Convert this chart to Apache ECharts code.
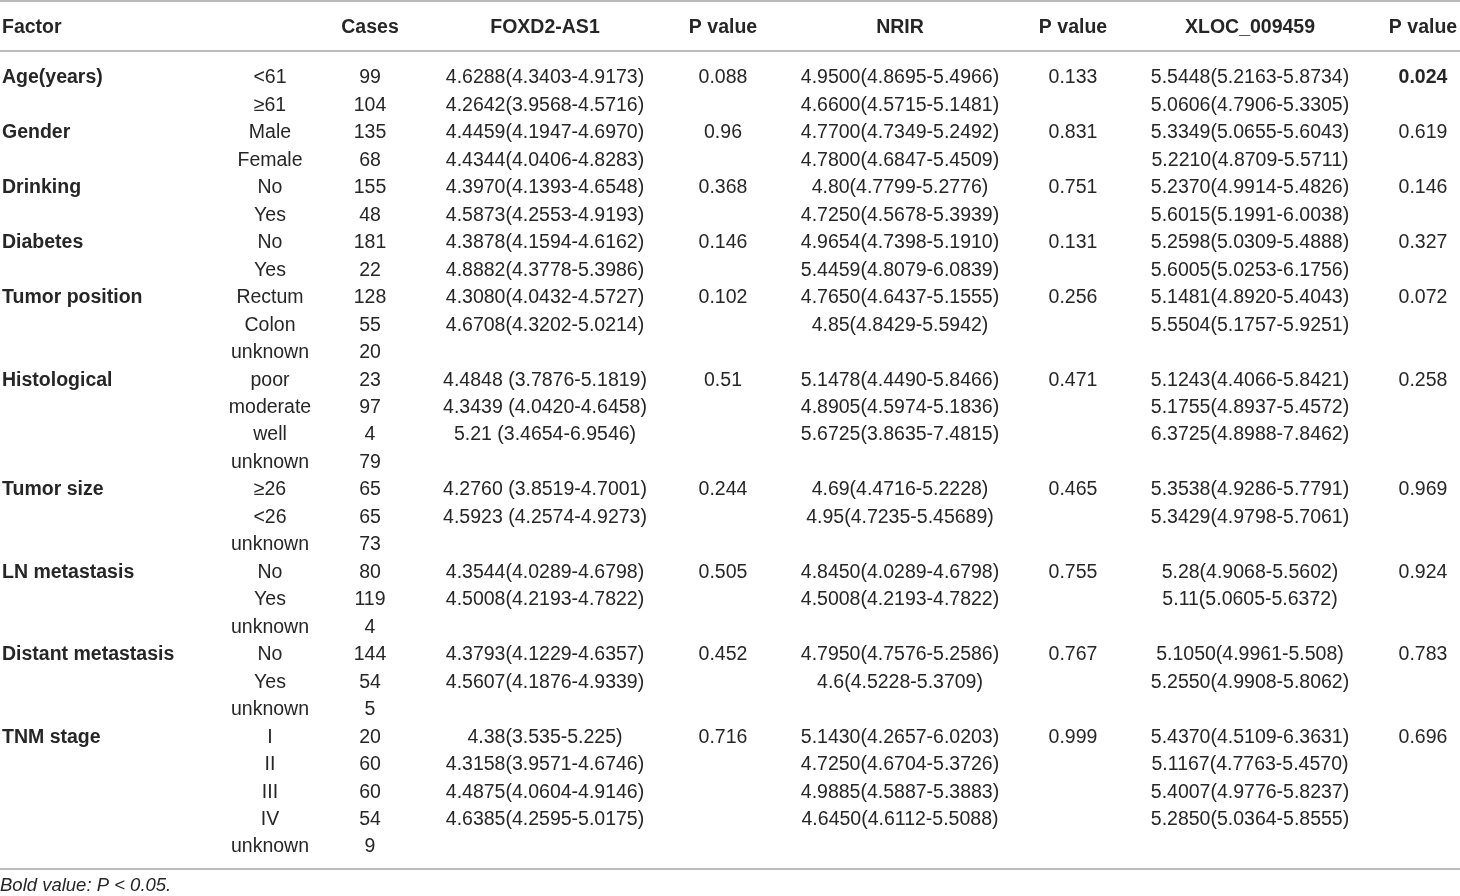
<!DOCTYPE html>
<html>
<head>
  <meta charset="utf-8">
  <title>Table</title>
  <script src="https://cdn.jsdelivr.net/npm/echarts@6/dist/echarts.min.js"></script>
  <style type="text/css">
    html, body {
      margin: 0;
      padding: 0;
      background: #fff;
    }

    #main {
      width: 1460px;
      height: 896px;
    }
  </style>
</head>

<body>
<div id="main"></div>
<script>
  // header texts
  var headers = ['Factor', '', 'Cases', 'FOXD2-AS1', 'P value', 'NRIR', 'P value', 'XLOC_009459', 'P value'];

  // table columns, one entry per row
  var factors = ['Age(years)', '', 'Gender', '', 'Drinking', '', 'Diabetes', '',
    'Tumor position', '', '', 'Histological', '', '', '', 'Tumor size', '', '',
    'LN metastasis', '', '', 'Distant metastasis', '', '', 'TNM stage', '', '', '', ''];
  var groups = ['<61', '≥61', 'Male', 'Female', 'No', 'Yes', 'No', 'Yes',
    'Rectum', 'Colon', 'unknown', 'poor', 'moderate', 'well', 'unknown', '≥26', '<26', 'unknown',
    'No', 'Yes', 'unknown', 'No', 'Yes', 'unknown', 'I', 'II', 'III', 'IV', 'unknown'];
  var cases = ['99', '104', '135', '68', '155', '48', '181', '22',
    '128', '55', '20', '23', '97', '4', '79', '65', '65', '73',
    '80', '119', '4', '144', '54', '5', '20', '60', '60', '54', '9'];
  var foxd2 = ['4.6288(4.3403-4.9173)', '4.2642(3.9568-4.5716)', '4.4459(4.1947-4.6970)', '4.4344(4.0406-4.8283)',
    '4.3970(4.1393-4.6548)', '4.5873(4.2553-4.9193)', '4.3878(4.1594-4.6162)', '4.8882(4.3778-5.3986)',
    '4.3080(4.0432-4.5727)', '4.6708(4.3202-5.0214)', '',
    '4.4848 (3.7876-5.1819)', '4.3439 (4.0420-4.6458)', '5.21 (3.4654-6.9546)', '',
    '4.2760 (3.8519-4.7001)', '4.5923 (4.2574-4.9273)', '',
    '4.3544(4.0289-4.6798)', '4.5008(4.2193-4.7822)', '',
    '4.3793(4.1229-4.6357)', '4.5607(4.1876-4.9339)', '',
    '4.38(3.535-5.225)', '4.3158(3.9571-4.6746)', '4.4875(4.0604-4.9146)', '4.6385(4.2595-5.0175)', ''];
  var foxd2P = ['0.088', '', '0.96', '', '0.368', '', '0.146', '', '0.102', '', '',
    '0.51', '', '', '', '0.244', '', '', '0.505', '', '', '0.452', '', '', '0.716', '', '', '', ''];
  var nrir = ['4.9500(4.8695-5.4966)', '4.6600(4.5715-5.1481)', '4.7700(4.7349-5.2492)', '4.7800(4.6847-5.4509)',
    '4.80(4.7799-5.2776)', '4.7250(4.5678-5.3939)', '4.9654(4.7398-5.1910)', '5.4459(4.8079-6.0839)',
    '4.7650(4.6437-5.1555)', '4.85(4.8429-5.5942)', '',
    '5.1478(4.4490-5.8466)', '4.8905(4.5974-5.1836)', '5.6725(3.8635-7.4815)', '',
    '4.69(4.4716-5.2228)', '4.95(4.7235-5.45689)', '',
    '4.8450(4.0289-4.6798)', '4.5008(4.2193-4.7822)', '',
    '4.7950(4.7576-5.2586)', '4.6(4.5228-5.3709)', '',
    '5.1430(4.2657-6.0203)', '4.7250(4.6704-5.3726)', '4.9885(4.5887-5.3883)', '4.6450(4.6112-5.5088)', ''];
  var nrirP = ['0.133', '', '0.831', '', '0.751', '', '0.131', '', '0.256', '', '',
    '0.471', '', '', '', '0.465', '', '', '0.755', '', '', '0.767', '', '', '0.999', '', '', '', ''];
  var xloc = ['5.5448(5.2163-5.8734)', '5.0606(4.7906-5.3305)', '5.3349(5.0655-5.6043)', '5.2210(4.8709-5.5711)',
    '5.2370(4.9914-5.4826)', '5.6015(5.1991-6.0038)', '5.2598(5.0309-5.4888)', '5.6005(5.0253-6.1756)',
    '5.1481(4.8920-5.4043)', '5.5504(5.1757-5.9251)', '',
    '5.1243(4.4066-5.8421)', '5.1755(4.8937-5.4572)', '6.3725(4.8988-7.8462)', '',
    '5.3538(4.9286-5.7791)', '5.3429(4.9798-5.7061)', '',
    '5.28(4.9068-5.5602)', '5.11(5.0605-5.6372)', '',
    '5.1050(4.9961-5.508)', '5.2550(4.9908-5.8062)', '',
    '5.4370(4.5109-6.3631)', '5.1167(4.7763-5.4570)', '5.4007(4.9776-5.8237)', '5.2850(5.0364-5.8555)', ''];
  var xlocP = ['0.024', '', '0.619', '', '0.146', '', '0.327', '', '0.072', '', '',
    '0.258', '', '', '', '0.969', '', '', '0.924', '', '', '0.783', '', '', '0.696', '', '', '', ''];
  // P values under 0.05 are printed bold
  var boldLimit = 0.05;
  var footnote = 'Bold value: P < 0.05.';

  // layout: x anchor of every column and its alignment
  var colX = [2, 270, 370, 545, 723, 900, 1073, 1250, 1423];
  var colAlign = ['left', 'center', 'center', 'center', 'center', 'center', 'center', 'center', 'center'];
  var columns = [factors, groups, cases, foxd2, foxd2P, nrir, nrirP, xloc, xlocP];
  var pCols = [4, 6, 8];

  var FONT = '"Liberation Sans", Arial, Helvetica, sans-serif';
  var TEXT = '#262626';
  var RULE = '#a3a3a3';
  var NUDGE = 2; // baseline nudge so text sits like the original

  var rowIds = [];
  for (var i = 0; i < factors.length; i++) {
    rowIds.push(String(i));
  }

  // one custom series per column, texts laid out on the hidden axes
  function textSeries(texts, col, gridIdx, rows, boldAll) {
    var data = [];
    var labels = [];
    for (var r = 0; r < texts.length; r++) {
      if (texts[r] === '') continue;
      data.push([colX[col], rows[r]]);
      var bold = boldAll || col === 0;
      if (pCols.indexOf(col) >= 0 && parseFloat(texts[r]) < boldLimit) bold = true;
      labels.push({text: texts[r], bold: bold});
    }
    return {
      type: 'custom',
      xAxisIndex: gridIdx === 0 ? 0 : 2,
      yAxisIndex: gridIdx,
      silent: true,
      data: data,
      renderItem: function (params, api) {
        var p = api.coord([api.value(0), api.value(1)]);
        var lab = labels[params.dataIndex];
        return {
          type: 'text',
          x: p[0],
          y: p[1] + NUDGE,
          style: {
            text: lab.text,
            fill: TEXT,
            fontFamily: FONT,
            fontSize: 19.5,
            fontWeight: lab.bold ? 'bold' : 'normal',
            align: colAlign[col],
            verticalAlign: 'middle'
          }
        };
      }
    };
  }

  var series = [];
  for (var c = 0; c < headers.length; c++) {
    if (headers[c] !== '') series.push(textSeries([headers[c]], c, 0, ['h'], true));
    series.push(textSeries(columns[c], c, 1, rowIds, false));
  }

  function xAx(gridIdx, pos, offset) {
    return {
      type: 'value', gridIndex: gridIdx, min: 0, max: 1460, position: pos, offset: offset || 0,
      axisLine: {show: true, onZero: false, lineStyle: {color: RULE, width: 1.6}},
      axisTick: {show: false}, axisLabel: {show: false}, splitLine: {show: false}
    };
  }

  var chart = echarts.init(document.getElementById('main'));
  chart.setOption({
    animation: false,
    title: {
      text: footnote,
      left: 0,
      top: 876,
      padding: 0,
      textStyle: {fontFamily: FONT, fontSize: 18.5, fontStyle: 'italic', fontWeight: 'normal', color: TEXT}
    },
    grid: [
      {left: 0, right: 0, top: 1, height: 50},
      {left: 0, right: 0, top: 62.3, height: 796.5}
    ],
    xAxis: [
      xAx(0, 'top'),
      xAx(0, 'bottom'),
      xAx(1, 'bottom', 9.5)
    ],
    yAxis: [
      {type: 'category', gridIndex: 0, data: ['h'], show: false},
      {type: 'category', gridIndex: 1, data: rowIds, inverse: true, show: false}
    ],
    series: series
  });
</script>
</body>
</html>
